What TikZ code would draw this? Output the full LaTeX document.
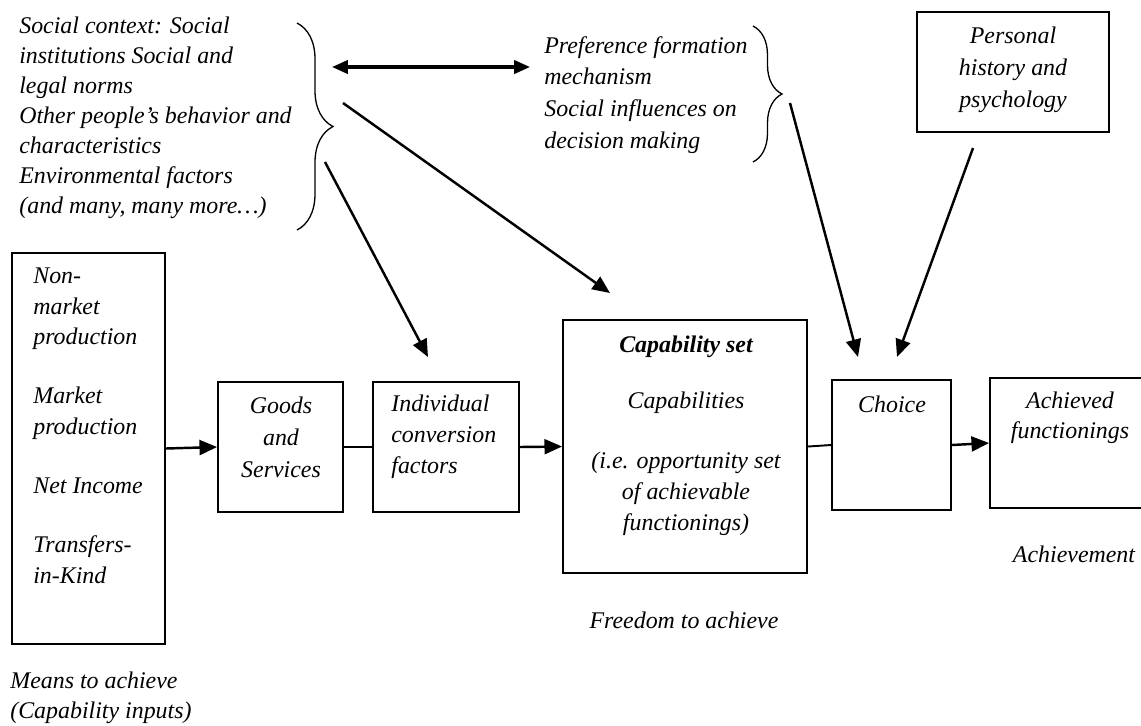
\documentclass[tikz,border=0pt]{standalone}
\usepackage{fontspec}
\setmainfont{Liberation Serif}
\usetikzlibrary{arrows.meta,fit,decorations.pathreplacing}
\begin{document}
\begin{tikzpicture}[x=0.02cm,y=-0.02cm,
  box/.style={draw,line width=1.1pt,inner sep=0pt},
  % multi-line texts are placed by the baseline of their last line
  txt/.style={font=\fontsize{13.6}{17.5}\selectfont\itshape,inner sep=0pt,align=left,anchor=base west},
  ctxt/.style={font=\fontsize{13.6}{17.5}\selectfont\itshape,inner sep=0pt,align=center,anchor=base},
  arr/.style={line width=1.4pt,-{Triangle[length=10pt,width=8.5pt]}},
  dblarr/.style={line width=1.8pt,{Triangle[length=9pt,width=7.5pt]}-{Triangle[length=9pt,width=7.5pt]}},
  link/.style={line width=1.1pt},
  bracestyle/.style={decorate,line width=0.75pt}]
\useasboundingbox (0,0) rectangle (1141,725);

% social context block and its brace
\node[txt,font=\fontsize{13.6}{17}\selectfont\itshape] (social) at (19,213) {Social context: Social\\institutions Social and\\legal norms\\Other people’s behavior and\\characteristics\\Environmental factors\\(and many, many more…)};
\draw[bracestyle,decoration={brace,amplitude=0.72cm}] (297,23) -- (297,230);

% preference formation block and its brace
\node[txt,font=\fontsize{13.6}{18}\selectfont\itshape] (pref) at (544,148) {Preference formation\\mechanism\\Social influences on\\decision making};
\draw[bracestyle,decoration={brace,amplitude=0.58cm}] (753,26) -- (753,162);

% personal history
\node[box,fit={(917,12) (1109,132)}] (personal) {};
\node[ctxt,font=\fontsize{13.6}{18}\selectfont\itshape] (personaltxt) at (1013,107) {Personal\\history and\\psychology};

% means to achieve
\node[box,fit={(12,253) (165,644)}] (means) {};
\node[txt] (meanstxt) at (33,583) {Non-\\market\\production\\[16pt]Market\\production\\[16pt]Net Income\\[16pt]Transfers-\\in-Kind};
\node[txt,font=\fontsize{13.6}{17}\selectfont\itshape] (meanslbl) at (10,718) {Means to achieve\\(Capability inputs)};

% goods and services
\node[box,fit={(218,382) (343,512)}] (goods) {};
\node[ctxt,font=\fontsize{13.6}{18}\selectfont\itshape] (goodstxt) at (281,477) {Goods\\and\\Services};

% individual conversion factors
\node[box,fit={(373,382) (519,512)}] (icf) {};
\node[txt] (icftxt) at (391,473) {Individual\\conversion\\factors};

% capability set
\node[box,fit={(563,320) (807,573)}] (cap) {};
\node[ctxt] (captitle) at (686,352) {\bfseries Capability set};
\node[ctxt] (captxt) at (686,408) {Capabilities};
\node[ctxt] (capsub) at (686,530) {(i.e. opportunity set\\of achievable\\functionings)};
\node[ctxt] (freedom) at (684,628) {Freedom to achieve};

% choice
\node[box,fit={(832,380) (951,510)}] (choice) {};
\node[ctxt] (choicetxt) at (892,412) {Choice};

% achieved functionings
\node[box,fit={(990,378) (1143,508)}] (achieved) {};
\node[ctxt,font=\fontsize{13.6}{17}\selectfont\itshape] (achievedtxt) at (1070,438) {Achieved\\functionings};
\node[ctxt] (achievement) at (1074,562) {Achievement};

% connector end points
\coordinate (dblL) at (332,67);
\coordinate (dblR) at (530,67);
\coordinate (s1) at (343,103);
\coordinate (e1) at (610,293);
\coordinate (s2) at (325,162);
\coordinate (e2) at (428,357);
\coordinate (s3) at (790,103);
\coordinate (e3) at (858,357);
\coordinate (s4) at (973,148);
\coordinate (e4) at (897,357);

% connectors
\draw[dblarr] (dblL) -- (dblR);
\draw[arr] (s1) -- (e1);
\draw[arr] (s2) -- (e2);
\draw[arr] (s3) -- (e3);
\draw[arr] (s4) -- (e4);
\draw[arr] (means.east) -- (goods.west);
\draw[link] (goods.east) -- (icf.west);
\draw[arr] (icf.east) -- (cap.west);
\draw[link] (cap.east) -- (choice.west);
\draw[arr] (choice.east) -- (achieved.west);
\end{tikzpicture}
\end{document}
